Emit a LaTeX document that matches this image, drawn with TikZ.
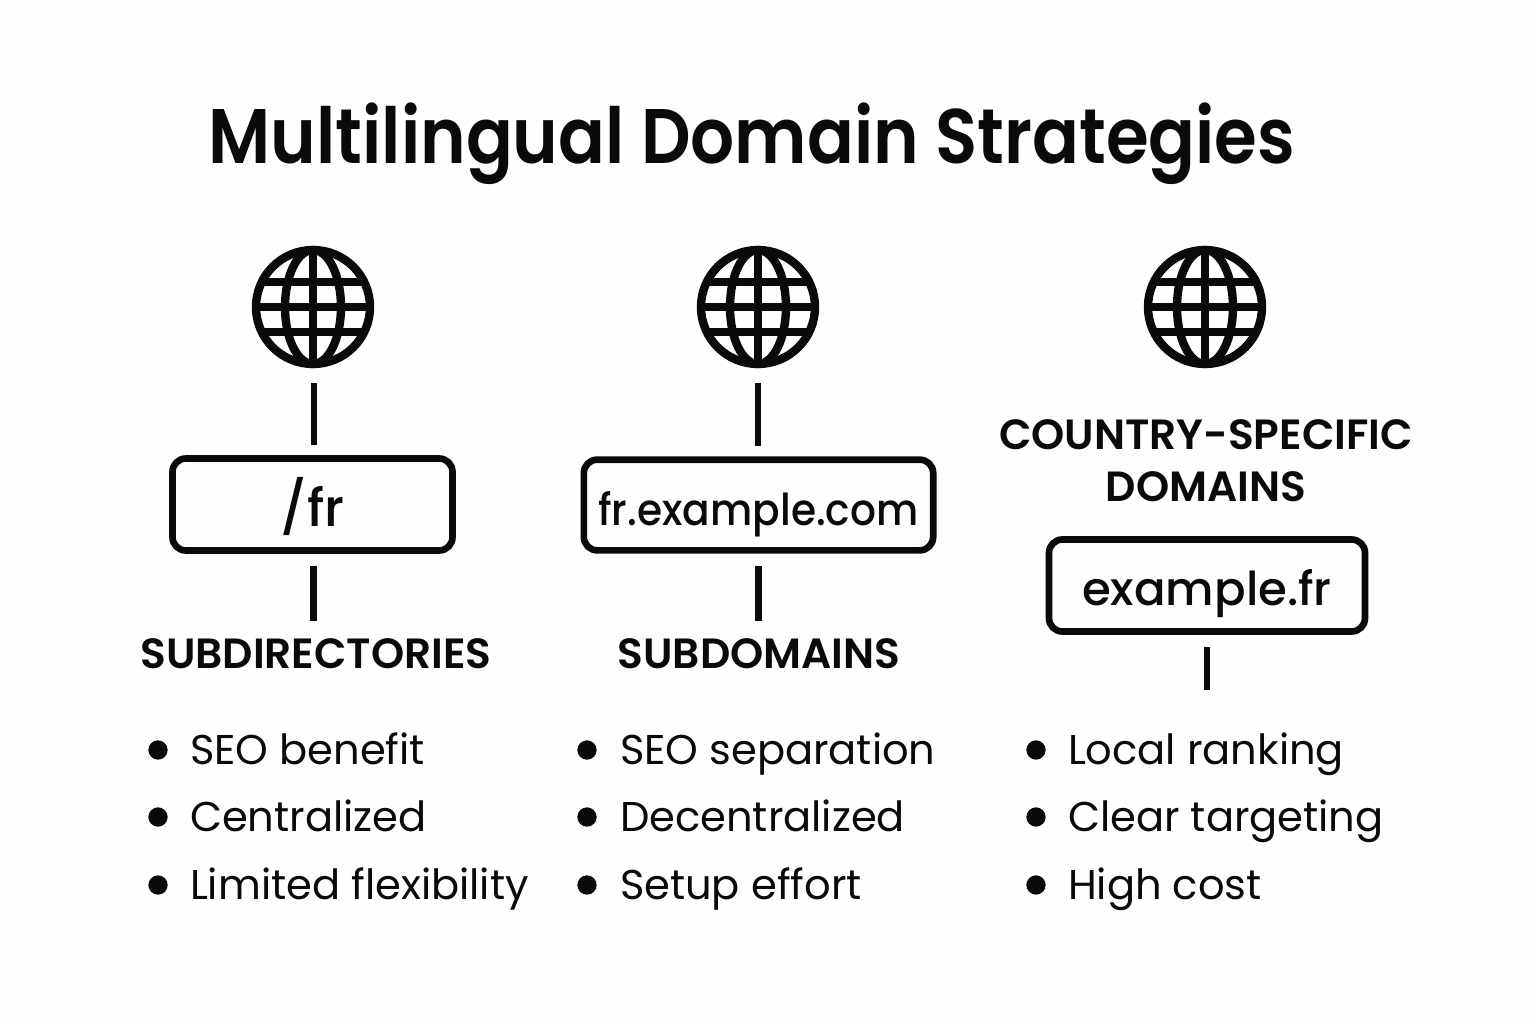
\documentclass[tikz,border=0pt]{standalone}
\usepackage{fontspec}
\setmainfont{Poppins}
\newfontfamily\medfont{Poppins Medium}
\newfontfamily\narrowfont[FakeStretch=0.925]{Poppins Medium}
\newfontfamily\titlefont[FakeStretch=0.894]{Poppins SemiBold}
\newfontfamily\headfont{Poppins SemiBold}
\definecolor{ink}{HTML}{0A0A0A}
\definecolor{paper}{HTML}{FEFEFC}
\tikzset{
  x=0.75pt,y=-0.75pt,
  every node/.style={text=ink,inner sep=0pt,outer sep=0pt},
  titlelabel/.style={font=\titlefont\fontsize{58}{58}\selectfont,anchor=base},
  headlabel/.style={font=\headfont\fontsize{31.7}{38}\selectfont,anchor=base,align=center},
  boxlabel/.style={draw=ink,line width=5pt,rounded corners=10pt,anchor=center,text height=30pt,text depth=0pt},
  itemlabel/.style={font=\fontsize{31.2}{36}\selectfont,anchor=base west},
  bulletdot/.style={circle,fill=ink,minimum size=14.5pt},
  linkline/.style={draw=ink,line width=5.2pt},
  globebody/.style={draw=ink,line width=6.3pt},
  globenode/.style={circle,minimum size=91.5pt},
}
\newcommand{\globeicon}[3]{%
  \node[globenode] (#3) at (#1,#2) {};
  \draw[globebody] (#1,#2) circle [radius=57];
  \draw[globebody] (#1,#2) ellipse [x radius=28, y radius=57];
  \draw[globebody] (#1,#2-57) -- (#1,#2+57);
  \draw[globebody] (#1-56,#2) -- (#1+56,#2);
  \draw[globebody] (#1-50,#2-25) -- (#1+50,#2-25);
  \draw[globebody] (#1-50,#2+25) -- (#1+50,#2+25);
}
\begin{document}
\begin{tikzpicture}
\useasboundingbox (0,0) rectangle (1536,1024);
\fill[paper] (0,0) rectangle (1536,1024);
\node[titlelabel] (title) at (752,163) {Multilingual Domain Strategies};

\globeicon{313}{307}{ga}
\globeicon{758}{307}{gb}
\globeicon{1205}{307}{gc}

\node[boxlabel,minimum width=210pt,minimum height=69pt,font=\medfont\fontsize{39}{40}\selectfont,text height=33pt] (ba) at (312.5,504.5) {/fr};
\node[boxlabel,minimum width=262pt,minimum height=68pt,font=\narrowfont\fontsize{33}{40}\selectfont] (bb) at (758.5,505) {fr.example.com};
\node[boxlabel,minimum width=237pt,minimum height=69pt,font=\medfont\fontsize{35}{40}\selectfont] (bc) at (1207,585.5) {example.fr};

\node[headlabel] (ha) at (316,668) {SUBDIRECTORIES};
\node[headlabel] (hb) at (759,668) {SUBDOMAINS};
\node[headlabel] (hc) at (1206,449) {COUNTRY-SPECIFIC};
\node[headlabel] (hd) at (1206,501) {DOMAINS};

\coordinate (tail) at (1207,690);
\draw[linkline,shorten <=11.25pt,shorten >=10.5pt] ([xshift=0.75pt]ga.south) -- ([xshift=0.75pt]ga.south |- ba.north);
\draw[linkline,shorten <=11.75pt,shorten >=13pt] ([xshift=0.75pt]ba.south) -- ([xshift=0.75pt]ba.south |- ha.north);
\draw[linkline,shorten <=11.25pt,shorten >=10.5pt] (gb.south) -- (gb.south |- bb.north);
\draw[linkline,shorten <=11.75pt,shorten >=13pt] (bb.south) -- (bb.south |- hb.north);
\draw[linkline,shorten <=11.75pt] (bc.south) -- (tail);

\foreach \nm/\xd/\xt/\yb/\tx in {
 ia/158/190/764/SEO benefit, ib/158/190/831/Centralized, ic/158/190/899/Limited flexibility,
 id/587/620/764/SEO separation, ie/587/620/831/Decentralized, if/587/620/899/Setup effort,
 ig/1036/1068/764/Local ranking, ih/1036/1068/831/Clear targeting, ii/1036/1068/899/High cost}{
  \node[bulletdot] (dot\nm) at (\xd,\yb-14) {};
  \node[itemlabel] (\nm) at (\xt,\yb) {\tx};
}
\end{tikzpicture}
\end{document}
